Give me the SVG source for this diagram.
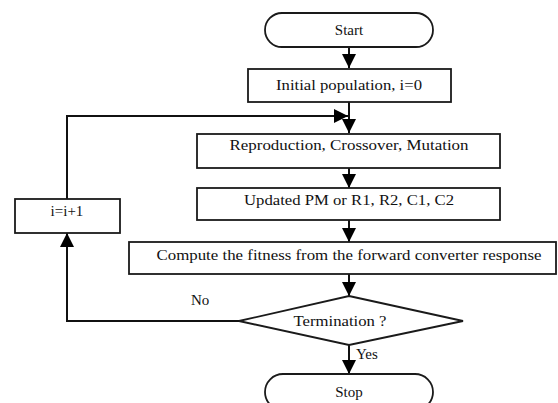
<svg xmlns="http://www.w3.org/2000/svg" width="558" height="403" viewBox="0 0 558 403">
<defs>
<style>
.box{fill:#fff;stroke:#1a1a1a;stroke-width:1.8}
.ln{fill:none;stroke:#111;stroke-width:2}
.t{font-family:"Liberation Serif","Times New Roman",serif;font-size:15px;fill:#111;text-anchor:middle}
.l{font-family:"Liberation Serif","Times New Roman",serif;font-size:15px;fill:#111}
</style>
<marker id="ah" markerUnits="userSpaceOnUse" markerWidth="14" markerHeight="16" viewBox="0 0 14 16" refX="14" refY="8" orient="auto">
<path d="M0,1 L14,8 L0,15 Z" fill="#000"/>
</marker>
</defs>
<rect width="558" height="403" fill="#fff"/>
<g id="connectors">
<line class="ln" x1="349" y1="47" x2="349" y2="68" marker-end="url(#ah)"/>
<line class="ln" x1="349" y1="102" x2="349" y2="133" marker-end="url(#ah)"/>
<polyline class="ln" points="67,199 67,116 348,116" marker-end="url(#ah)"/>
<line class="ln" x1="349" y1="168" x2="349" y2="188" marker-end="url(#ah)"/>
<line class="ln" x1="349" y1="220" x2="349" y2="242" marker-end="url(#ah)"/>
<line class="ln" x1="349" y1="274" x2="349" y2="296" marker-end="url(#ah)"/>
<polyline class="ln" points="239,321 67,321 67,233" marker-end="url(#ah)"/>
<line class="ln" x1="349" y1="345" x2="349" y2="374" marker-end="url(#ah)"/>
<text class="l" x="191" y="305">No</text>
<text class="l" x="356" y="359">Yes</text>
</g>
<g id="start">
<rect class="box" x="265" y="13" width="168" height="34" rx="17"/>
<text class="t" x="349" y="35">Start</text>
</g>
<g id="init">
<rect class="box" x="248" y="69" width="203" height="33"/>
<text class="t" x="349" y="90" textLength="146" lengthAdjust="spacingAndGlyphs">Initial population, i=0</text>
</g>
<g id="repro">
<rect class="box" x="197" y="134" width="303" height="34"/>
<text class="t" x="349" y="150" textLength="239" lengthAdjust="spacingAndGlyphs">Reproduction, Crossover, Mutation</text>
</g>
<g id="updated">
<rect class="box" x="197" y="188" width="303" height="32"/>
<text class="t" x="349" y="205" textLength="210" lengthAdjust="spacingAndGlyphs">Updated PM or R1, R2, C1, C2</text>
</g>
<g id="compute">
<rect class="box" x="129" y="242" width="427" height="32"/>
<text class="t" x="349" y="260" textLength="385" lengthAdjust="spacingAndGlyphs">Compute the fitness from the forward converter response</text>
</g>
<g id="incr">
<rect class="box" x="15" y="199" width="105" height="34"/>
<text class="t" x="67" y="216">i=i+1</text>
</g>
<g id="term">
<polygon class="box" points="349,296 463,321 349,345 239,321"/>
<text class="t" x="340" y="326" textLength="93" lengthAdjust="spacingAndGlyphs">Termination ?</text>
</g>
<g id="stop">
<rect class="box" x="265" y="374" width="168" height="36" rx="18"/>
<text class="t" x="349" y="397">Stop</text>
</g>
</svg>
